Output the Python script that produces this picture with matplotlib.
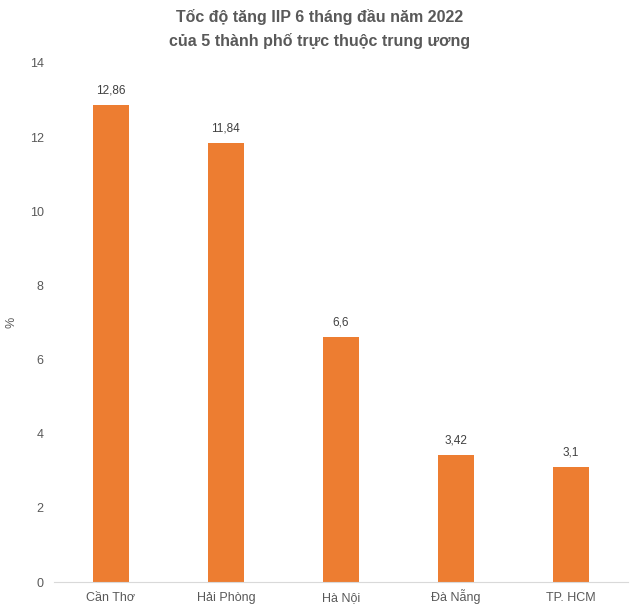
import unicodedata
import matplotlib.pyplot as plt

cities = ["Cần Thơ", "Hải Phòng", "Hà Nội", "Đà Nẵng", "TP. HCM"]
growth = [12.86, 11.84, 6.6, 3.42, 3.1]
growth_labels = ["12,86", "11,84", "6,6", "3,42", "3,1"]

cities = [unicodedata.normalize("NFC", c) for c in cities]

plt.rcParams['font.family'] = ['Liberation Sans', 'DejaVu Sans']

fig = plt.figure(figsize=(6.4, 6.05), dpi=100)
ax = fig.add_axes([0.0836, 0.038, 0.898, 0.858])

x = range(len(cities))
bars = ax.bar(x, growth, width=0.31, color="#ED7D31")
for b, lab in zip(bars, growth_labels):
    ax.annotate(lab, (b.get_x() + b.get_width() / 2, b.get_height()),
                xytext=(0, 6), textcoords="offset points",
                ha="center", va="bottom", fontsize=8.5, color="#404040")

ax.set_xlim(-0.5, len(cities) - 0.5)
ax.set_ylim(0, 14)
ax.set_yticks(range(0, 15, 2))
ax.set_xticks(list(x))
ax.set_xticklabels([])
ax.tick_params(axis="both", length=0, colors="#595959", labelsize=9)
ax.tick_params(axis="y", pad=7)

# category names bottom-aligned: keeps one baseline despite stacked accents
for i, name in zip(x, cities):
    ax.annotate(name, (i, 0), xycoords=("data", "axes fraction"),
                xytext=(0, -16), textcoords="offset points",
                ha="center", va="bottom", fontsize=9, color="#595959")
ax.set_ylabel("%", color="#595959", fontsize=9)
ax.yaxis.set_label_coords(-0.062, 0.5)

for s in ["top", "right", "left"]:
    ax.spines[s].set_visible(False)
ax.spines["bottom"].set_color("#D9D9D9")

title = unicodedata.normalize(
    "NFC", "Tốc độ tăng IIP 6 tháng đầu năm 2022\ncủa 5 thành phố trực thuộc trung ương")
fig.suptitle(title, y=0.985, fontsize=11.5, fontweight="bold",
             color="#595959", linespacing=1.6)

plt.savefig("out.png")
plt.close()
